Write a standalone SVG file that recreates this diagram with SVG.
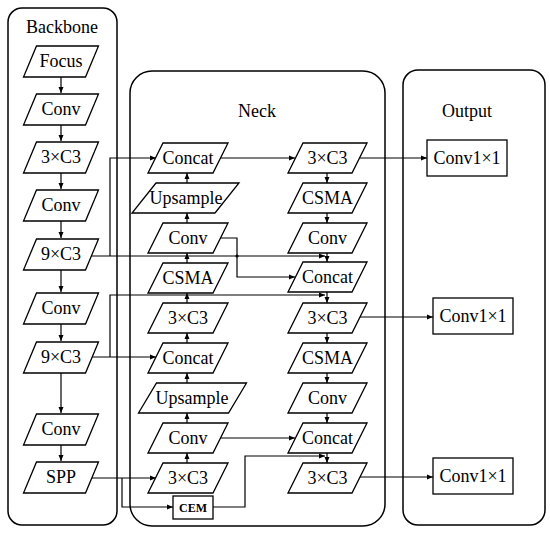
<svg xmlns="http://www.w3.org/2000/svg" width="550" height="533" viewBox="0 0 550 533">
<style>
.panel{fill:#fff;stroke:#000;stroke-width:1.5}
.box{fill:#fff;stroke:#000;stroke-width:1.3}
.c{fill:none;stroke:#000;stroke-width:1.2}
text{font-family:"Liberation Serif",serif !important}
</style>
<defs>
<marker id="ah" markerUnits="userSpaceOnUse" markerWidth="7" markerHeight="6" refX="6" refY="3" orient="auto">
<path d="M0,0.5 L6,3 L0,5.5 Z" fill="#000"/>
</marker>
</defs>
<rect width="550" height="533" fill="#fff"/>
<g id="panels">
<rect class="panel" x="8" y="8" width="109" height="517" rx="14"/>
<rect class="panel" x="130" y="71" width="255" height="455" rx="22"/>
<rect class="panel" x="403" y="70" width="142" height="455" rx="15"/>
</g>
<g id="titles" font-family="Liberation Serif" font-size="18" text-anchor="middle">
<text x="62" y="33">Backbone</text>
<text x="257" y="117">Neck</text>
<text x="467" y="117">Output</text>
</g>
<g id="connectors">
<path class="c" d="M61,77 V93" marker-end="url(#ah)"/>
<path class="c" d="M61,125 V141" marker-end="url(#ah)"/>
<path class="c" d="M61,173 V189" marker-end="url(#ah)"/>
<path class="c" d="M61,221 V238" marker-end="url(#ah)"/>
<path class="c" d="M61,270 V292" marker-end="url(#ah)"/>
<path class="c" d="M61,324 V341" marker-end="url(#ah)"/>
<path class="c" d="M61,373 V413" marker-end="url(#ah)"/>
<path class="c" d="M61,445 V461" marker-end="url(#ah)"/>
<path class="c" d="M187,463 V453" marker-end="url(#ah)"/>
<path class="c" d="M187,423 V413" marker-end="url(#ah)"/>
<path class="c" d="M187,383 V373" marker-end="url(#ah)"/>
<path class="c" d="M187,343 V333" marker-end="url(#ah)"/>
<path class="c" d="M187,303 V293" marker-end="url(#ah)"/>
<path class="c" d="M187,263 V253" marker-end="url(#ah)"/>
<path class="c" d="M187,223 V213" marker-end="url(#ah)"/>
<path class="c" d="M187,183 V173" marker-end="url(#ah)"/>
<path class="c" d="M327,173 V183" marker-end="url(#ah)"/>
<path class="c" d="M327,213 V223" marker-end="url(#ah)"/>
<path class="c" d="M327,253 V262" marker-end="url(#ah)"/>
<path class="c" d="M327,292 V303" marker-end="url(#ah)"/>
<path class="c" d="M327,333 V343" marker-end="url(#ah)"/>
<path class="c" d="M327,373 V383" marker-end="url(#ah)"/>
<path class="c" d="M327,413 V423" marker-end="url(#ah)"/>
<path class="c" d="M327,453 V463" marker-end="url(#ah)"/>
<path class="c" d="M92,256 H325" marker-end="url(#ah)"/>
<path class="c" d="M110,256 V158 H156" marker-end="url(#ah)"/>
<path class="c" d="M92,357 H156" marker-end="url(#ah)"/>
<path class="c" d="M110,357 V295 H325" marker-end="url(#ah)"/>
<path class="c" d="M92,478 H156" marker-end="url(#ah)"/>
<path class="c" d="M122,478 V507 H173" marker-end="url(#ah)"/>
<path class="c" d="M213,507 H245 V456 H325" marker-end="url(#ah)"/>
<path class="c" d="M220,158 H295" marker-end="url(#ah)"/>
<path class="c" d="M220,238 H237 V277 H295" marker-end="url(#ah)"/>
<circle cx="237" cy="256" r="1.6" fill="#000"/>
<path class="c" d="M220,438 H295" marker-end="url(#ah)"/>
<path class="c" d="M359,158 H427" marker-end="url(#ah)"/>
<path class="c" d="M359,317 H433" marker-end="url(#ah)"/>
<path class="c" d="M359,477 H433" marker-end="url(#ah)"/>
</g>
<g id="nodes" font-family="Liberation Serif" font-size="18" text-anchor="middle">
<g id="bb-focus"><path class="box" d="M36.5,46 H98.5 L85.5,77 H23.5 Z"/><text x="61" y="67">Focus</text></g>
<g id="bb-conv1"><path class="box" d="M36.5,94 H98.5 L85.5,125 H23.5 Z"/><text x="61" y="115">Conv</text></g>
<g id="bb-c3-1"><path class="box" d="M36.5,142 H98.5 L85.5,173 H23.5 Z"/><text x="61" y="163">3×C3</text></g>
<g id="bb-conv2"><path class="box" d="M36.5,190 H98.5 L85.5,221 H23.5 Z"/><text x="61" y="211">Conv</text></g>
<g id="bb-c3-2"><path class="box" d="M36.5,239 H98.5 L85.5,270 H23.5 Z"/><text x="61" y="260">9×C3</text></g>
<g id="bb-conv3"><path class="box" d="M36.5,293 H98.5 L85.5,324 H23.5 Z"/><text x="61" y="314">Conv</text></g>
<g id="bb-c3-3"><path class="box" d="M36.5,342 H98.5 L85.5,373 H23.5 Z"/><text x="61" y="363">9×C3</text></g>
<g id="bb-conv4"><path class="box" d="M36.5,414 H98.5 L85.5,445 H23.5 Z"/><text x="61" y="435">Conv</text></g>
<g id="bb-spp"><path class="box" d="M36.5,462 H98.5 L85.5,493 H23.5 Z"/><text x="61" y="483">SPP</text></g>
<g id="nl-concat1"><path class="box" d="M163,143 H228 L213,173 H148 Z"/><text x="188" y="164">Concat</text></g>
<g id="nl-up1"><path class="box" d="M156,183 H239 L215,213 H132 Z"/><text x="186" y="204">Upsample</text></g>
<g id="nl-conv1"><path class="box" d="M163,223 H228 L213,253 H148 Z"/><text x="188" y="244">Conv</text></g>
<g id="nl-csma"><path class="box" d="M163,263 H228 L213,293 H148 Z"/><text x="188" y="284">CSMA</text></g>
<g id="nl-c3-1"><path class="box" d="M163,303 H228 L213,333 H148 Z"/><text x="188" y="324">3×C3</text></g>
<g id="nl-concat2"><path class="box" d="M163,343 H228 L213,373 H148 Z"/><text x="188" y="364">Concat</text></g>
<g id="nl-up2"><path class="box" d="M156.5,383 H246.5 L228.5,413 H138.5 Z"/><text x="192" y="404">Upsample</text></g>
<g id="nl-conv2"><path class="box" d="M163,423 H228 L213,453 H148 Z"/><text x="188" y="444">Conv</text></g>
<g id="nl-c3-2"><path class="box" d="M163,463 H228 L213,493 H148 Z"/><text x="188" y="484">3×C3</text></g>
<g id="nl-cem"><rect class="box" x="173" y="496" width="40" height="23"/><text x="193" y="512" font-size="12" font-weight="bold">CEM</text></g>
<g id="nr-c3-1"><path class="box" d="M303,143 H367 L352,173 H288 Z"/><text x="327.5" y="164">3×C3</text></g>
<g id="nr-csma1"><path class="box" d="M303,183 H367 L352,213 H288 Z"/><text x="327.5" y="204">CSMA</text></g>
<g id="nr-conv1"><path class="box" d="M303,223 H367 L352,253 H288 Z"/><text x="327.5" y="244">Conv</text></g>
<g id="nr-concat1"><path class="box" d="M303,262 H367 L352,292 H288 Z"/><text x="327.5" y="283">Concat</text></g>
<g id="nr-c3-2"><path class="box" d="M303,303 H367 L352,333 H288 Z"/><text x="327.5" y="324">3×C3</text></g>
<g id="nr-csma2"><path class="box" d="M303,343 H367 L352,373 H288 Z"/><text x="327.5" y="364">CSMA</text></g>
<g id="nr-conv2"><path class="box" d="M303,383 H367 L352,413 H288 Z"/><text x="327.5" y="404">Conv</text></g>
<g id="nr-concat2"><path class="box" d="M303,423 H367 L352,453 H288 Z"/><text x="327.5" y="444">Concat</text></g>
<g id="nr-c3-3"><path class="box" d="M303,463 H367 L352,493 H288 Z"/><text x="327.5" y="484">3×C3</text></g>
<g id="out1"><rect class="box" x="427" y="140" width="80" height="36"/><text x="467" y="164">Conv1×1</text></g>
<g id="out2"><rect class="box" x="433" y="298" width="80" height="36"/><text x="473" y="322">Conv1×1</text></g>
<g id="out3"><rect class="box" x="433" y="458" width="80" height="36"/><text x="473" y="482">Conv1×1</text></g>
</g>
</svg>
